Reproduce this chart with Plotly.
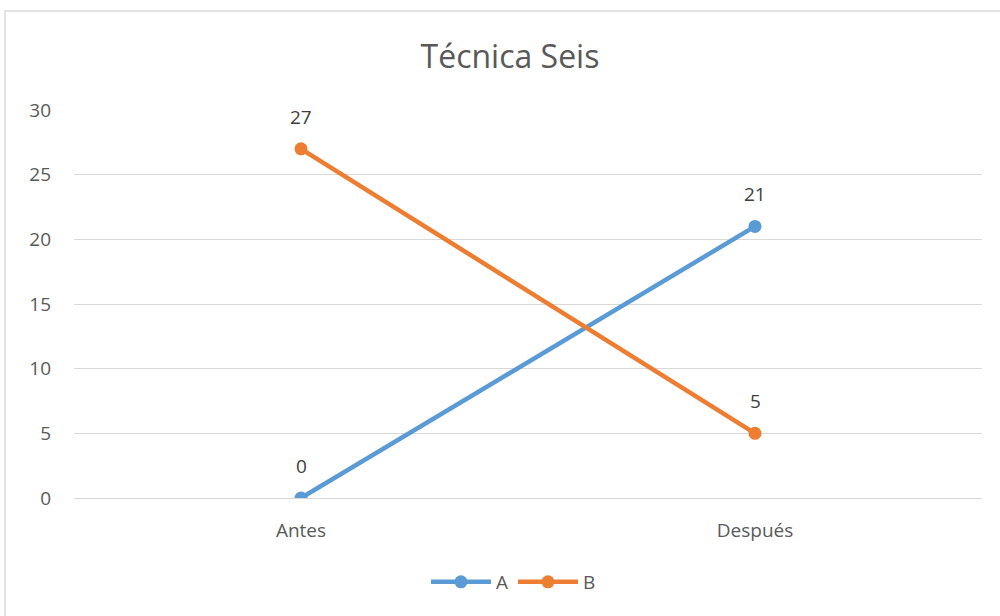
import plotly.graph_objects as go

categories = ["Antes", "Después"]
series_a = [0, 21]
series_b = [27, 5]
y_ticks = [0, 5, 10, 15, 20, 25, 30]

blue = "#5B9BD5"
orange = "#ED7D31"
txt = "#595959"
font_family = "'Open Sans', Lato, sans-serif"

fig = go.Figure()
fig.add_trace(go.Scatter(x=categories, y=series_a, name="A", mode="lines+markers",
                         line=dict(color=blue, width=4.5), marker=dict(size=13, color=blue)))
fig.add_trace(go.Scatter(x=categories, y=series_b, name="B", mode="lines+markers",
                         line=dict(color=orange, width=4.5), marker=dict(size=13, color=orange)))

annotations = []
for vals in (series_a, series_b):
    for c, v in zip(categories, vals):
        annotations.append(dict(x=c, y=v, text=str(v), showarrow=False, yshift=32,
                                font=dict(size=19, color="#404040", family=font_family)))

W, H = 1000, 616
fig.update_layout(
    width=W, height=H,
    paper_bgcolor="white", plot_bgcolor="white",
    margin=dict(l=74, r=18, t=110, b=118),
    title=dict(text="Técnica Seis", x=510 / W, xanchor="center", y=1 - 57 / H, yanchor="middle",
               font=dict(size=32, color=txt, family=font_family)),
    font=dict(family=font_family, color=txt, size=19),
    xaxis=dict(range=[-0.5, 1.5], showgrid=False, zeroline=False, showline=True,
               linecolor="#d9d9d9", linewidth=1, ticks="", tickfont=dict(size=19, color=txt),
               ticklabelstandoff=15),
    yaxis=dict(range=[0, 30], tickvals=y_ticks, showgrid=True, gridcolor="#d9d9d9", gridwidth=1,
               zeroline=False, showline=False, ticks="", tickfont=dict(size=19, color=txt),
               ticklabelstandoff=22),
    legend=dict(orientation="h", x=0.484, xanchor="center", y=-(582 - 498) / 388, yanchor="middle",
                font=dict(size=19, color=txt), itemwidth=60, tracegroupgap=0),
    annotations=annotations,
    shapes=[dict(type="rect", xref="paper", yref="paper",
                 x0=(5 - 74) / 908, x1=(1010 - 74) / 908, y0=(498 - 625) / 388, y1=(498 - 11) / 388,
                 line=dict(color="#d9d9d9", width=1.5), fillcolor="rgba(0,0,0,0)", layer="below")],
)

fig.write_html("out.html", config={"displayModeBar": False},
               post_script="document.body.style.margin='0';")
